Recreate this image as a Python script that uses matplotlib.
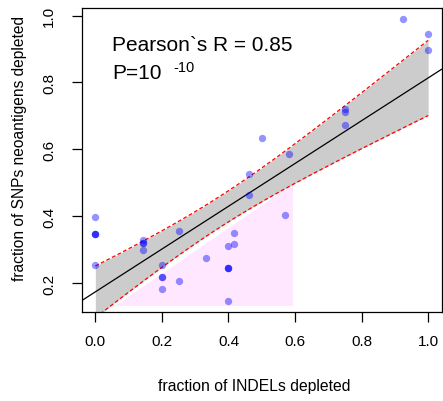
import numpy as np
import matplotlib
matplotlib.use("Agg")
import matplotlib.pyplot as plt

plt.rcParams['font.family'] = ['Liberation Sans', 'DejaVu Sans']

# fraction of INDELs depleted vs fraction of SNP neoantigens depleted (one entry per sample)
indel_frac = [0.923, 1.0, 1.0, 0.75, 0.75, 0.75, 0.5, 0.583, 0.462, 0.462,
              0.0, 0.571, 0.0, 0.0, 0.0, 0.143, 0.143, 0.143, 0.143, 0.25,
              0.417, 0.417, 0.4, 0.0, 0.2, 0.333, 0.2, 0.2, 0.4, 0.4,
              0.4, 0.2, 0.25, 0.4]
snp_frac = [0.989, 0.944, 0.896, 0.721, 0.713, 0.674, 0.634, 0.586, 0.526, 0.463,
            0.397, 0.403, 0.347, 0.347, 0.347, 0.329, 0.319, 0.319, 0.300, 0.357,
            0.349, 0.318, 0.311, 0.255, 0.255, 0.275, 0.219, 0.219, 0.246, 0.246,
            0.246, 0.183, 0.206, 0.147]

# highlighted (pink) region
highlight_x = [0.059, 0.594, 0.594]
highlight_y = [0.131, 0.131, 0.496]

x_ticks = [0.0, 0.2, 0.4, 0.6, 0.8, 1.0]
y_ticks = [0.2, 0.4, 0.6, 0.8, 1.0]

x = np.array(indel_frac)
y = np.array(snp_frac)

# linear fit + 95% confidence band of the mean
n = len(x)
slope, intercept = np.polyfit(x, y, 1)
resid = y - (intercept + slope * x)
s = np.sqrt(np.sum(resid ** 2) / (n - 2))
sxx = np.sum((x - x.mean()) ** 2)
t_crit = 2.04
xs = np.linspace(0, 1, 200)
fit = intercept + slope * xs
half = t_crit * s * np.sqrt(1 / n + (xs - x.mean()) ** 2 / sxx)

fig = plt.figure(figsize=(4.43, 4.02), dpi=100)
ax = fig.add_axes([82 / 443, 89 / 402, 359.5 / 443, 304 / 402])

ax.fill(highlight_x, highlight_y, color="#ffe8ff", lw=0, zorder=1)
ax.fill_between(xs, fit - half, fit + half, color="#cccccc", lw=0, zorder=2)
ax.plot(xs, fit + half, color="red", lw=0.9, ls=(0, (3, 2)), zorder=3)
ax.plot(xs, fit - half, color="red", lw=0.9, ls=(0, (3, 2)), zorder=3)
ax.axline((0, intercept), slope=slope, color="black", lw=0.9, zorder=4)
ax.scatter(x, y, s=28, color="blue", alpha=0.42, lw=0, zorder=5)

rng = y.max() - y.min()
ax.set_xlim(-0.04, 1.04)
ax.set_ylim(y.min() - 0.04 * rng, y.max() + 0.04 * rng)
ax.set_xticks(x_ticks)
ax.set_xticklabels([f"{v:.1f}" for v in x_ticks])
ax.set_yticks(y_ticks)
ax.set_yticklabels([f"{v:.1f}" for v in y_ticks], rotation=90, va="center")
ax.tick_params(length=7, width=0.9, labelsize=11)
ax.tick_params(axis="x", pad=8.5)
ax.tick_params(axis="y", pad=11.5)
for sp in ax.spines.values():
    sp.set_linewidth(0.9)

ax.text(0.083, 0.863, "Pearson`s R = 0.85", transform=ax.transAxes, fontsize=15)
ax.text(0.083, 0.770, "P=10", transform=ax.transAxes, fontsize=15)
ax.text(0.254, 0.793, "-10", transform=ax.transAxes, fontsize=10.5)

fig.text(254 / 443, 1 - 387 / 402, "fraction of INDELs depleted", ha="center", va="center", fontsize=11.3)
fig.text(19.5 / 443, 1 - 148.5 / 402, "fraction of SNPs neoantigens depleted", rotation=90,
         ha="center", va="center", fontsize=11.2)

fig.savefig("out.png", dpi=100)
